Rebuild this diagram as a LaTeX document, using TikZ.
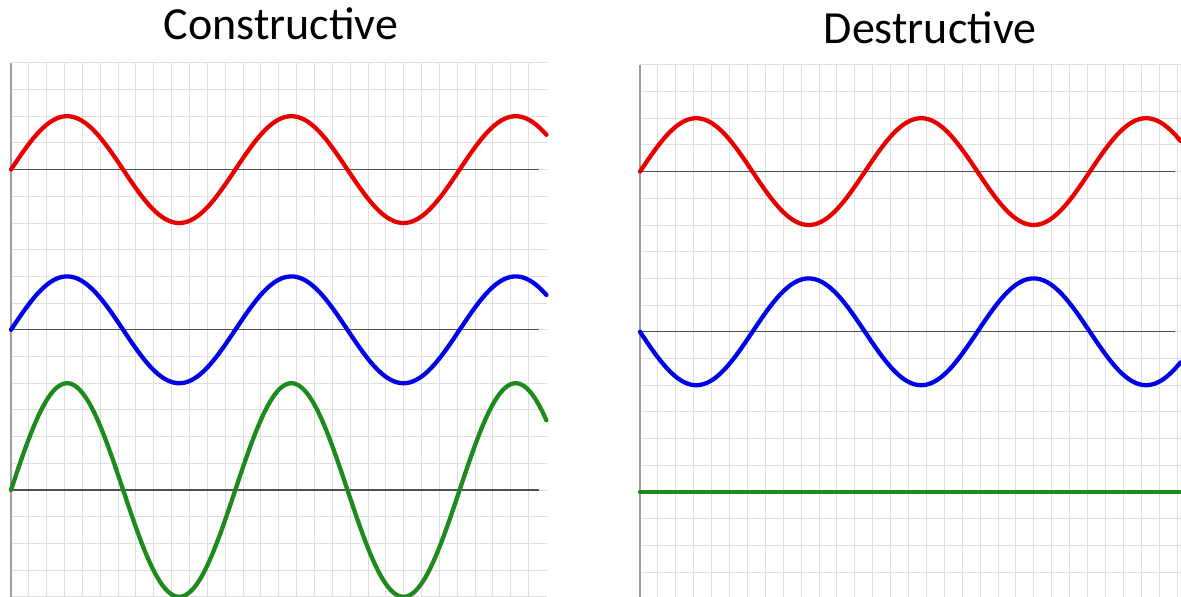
\documentclass[tikz,border=0pt]{standalone}
\usepackage{fontspec}
\setmainfont{Carlito}
\definecolor{wred}{RGB}{232,0,0}
\definecolor{wblue}{RGB}{0,0,232}
\definecolor{wgreen}{RGB}{30,138,30}
\definecolor{gridc}{RGB}{222,222,222}
\definecolor{zeroc}{RGB}{80,80,80}
\tikzset{
  gridline/.style={draw=gridc, line width=1pt},
  axisline/.style={draw=gray!75, line width=1.3pt},
  zeroline/.style={draw=zeroc, line width=1.3pt},
  wave/.style={line width=4.3pt, line cap=round, line join=round},
  title/.style={font=\fontsize{46}{50}\selectfont, anchor=base, inner sep=0pt}
}
\begin{document}
\begin{tikzpicture}[x=1pt,y=-1pt]
\useasboundingbox (0,0) rectangle (1181,597);
\fill[white] (0,0) rectangle (1181,597);
\clip (0,0) rectangle (1181,597);

\node[title] (tconst) at (281,39) {Constructive};
\node[title] (tdest) at (930,43) {Destructive};

% Left panel
\begin{scope}[shift={(11pt,-490pt)}, x=35.7pt, y=53.4pt]
  \foreach \i in {1,...,29} \draw[gridline] (\i/2,-2.1) -- (\i/2,8);
  \foreach \j in {-4,...,16} \draw[gridline] (0,\j/2) -- (15,\j/2);
  \draw[axisline] (0,-2.1) -- (0,8);
  \draw[zeroline] (0,6) -- (14.8,6);
  \draw[zeroline] (0,3) -- (14.8,3);
  \draw[zeroline] (0,0) -- (14.8,0);
  \draw[wave, wred] plot[domain=0:15, samples=220, smooth] (\x,{6+sin(\x r)});
  \draw[wave, wblue] plot[domain=0:15, samples=220, smooth] (\x,{3+sin(\x r)});
  \draw[wave, wgreen] plot[domain=0:15, samples=220, smooth] (\x,{2*sin(\x r)});
\end{scope}

% Right panel
\begin{scope}[shift={(640pt,-492pt)}, x=35.8pt, y=53.4pt]
  \foreach \i in {1,...,30} \draw[gridline] (\i/2,-2.1) -- (\i/2,8);
  \foreach \j in {-4,...,16} \draw[gridline] (0,\j/2) -- (15.3,\j/2);
  \draw[axisline] (0,-2.1) -- (0,8);
  \draw[zeroline] (0,6) -- (14.95,6);
  \draw[zeroline] (0,3) -- (14.95,3);
  \draw[wave, wred] plot[domain=0:15.1, samples=220, smooth] (\x,{6+sin(\x r)});
  \draw[wave, wblue] plot[domain=0:15.1, samples=220, smooth] (\x,{3-sin(\x r)});
  \draw[wave, wgreen] (0,0) -- (15.3,0);
\end{scope}
\end{tikzpicture}
\end{document}
